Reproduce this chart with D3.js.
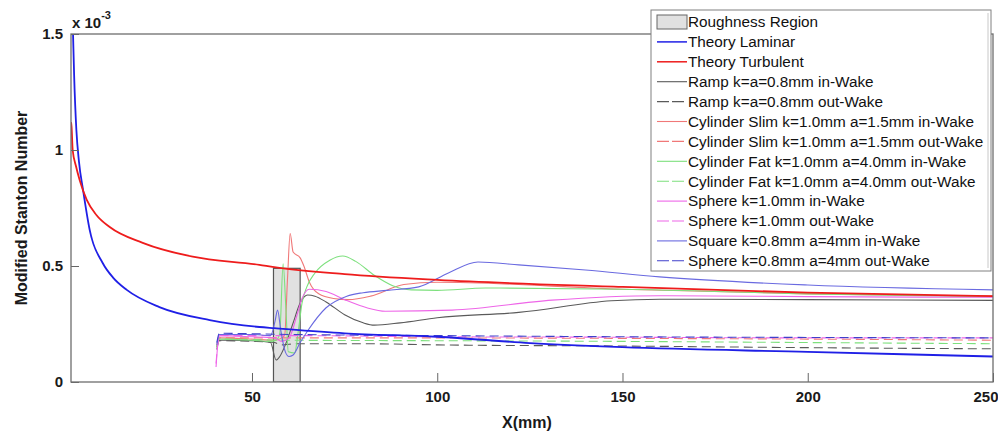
<!DOCTYPE html>
<html>
<head>
<meta charset="utf-8">
<script src="https://cdn.jsdelivr.net/npm/d3@7"></script>
<style>
  body { margin: 0; background: #fff; }
  svg { font-family: Arial, "Liberation Sans", sans-serif; }
  .tick text { font-weight: bold; font-size: 15px; fill: #1a1a1a; }
</style>
</head>
<body>
<div id="chart"></div>
<script>
// x in mm, y in units of 1e-3
const xTicks = [50, 100, 150, 200, 250];
const yTicks = [0, 0.5, 1, 1.5];
const roughness = [55.8, 63.0, 0.49];

const theoryLaminar = [[1.5, 1.62], [1.7, 1.5], [2.0, 1.32], [2.6, 1.086], [3.3, 0.95], [4.4, 0.828], [6.2, 0.655],
  [9.7, 0.513], [12.5, 0.45], [16.2, 0.397], [25, 0.323], [38.6, 0.267], [52, 0.237], [56, 0.232], [75, 0.21],
  [100, 0.195], [125, 0.168], [150, 0.15], [200, 0.13], [250, 0.11]];
const theoryTurbulent = [[1.15, 1.12], [1.3, 1.10], [1.6, 1.0], [2.5, 0.93], [3.5, 0.87], [5.4, 0.785], [8, 0.72],
  [11.6, 0.668], [20.5, 0.60], [34, 0.54], [52, 0.505], [56, 0.495], [75, 0.465], [100, 0.44], [150, 0.41],
  [200, 0.385], [250, 0.37]];
const rampIn = [[40.5, 0.14], [41.2, 0.18], [45, 0.18], [50, 0.178], [55, 0.17], [56.5, 0.095], [57.5, 0.11], [59, 0.16],
  [61, 0.25], [63, 0.34], [65, 0.375], [67, 0.37], [70, 0.345], [75, 0.29], [80, 0.255], [83, 0.245], [90, 0.255],
  [100, 0.277], [122, 0.30], [147, 0.35], [160, 0.357], [200, 0.355], [250, 0.352]];
const rampOut = [[40.5, 0.15], [41.2, 0.178], [50, 0.175], [56, 0.17], [58, 0.16], [62, 0.165], [80, 0.165],
  [100, 0.16], [150, 0.155], [200, 0.148], [250, 0.143]];
const slimIn = [[40.5, 0.15], [41.2, 0.19], [50, 0.185], [56, 0.18], [58.8, 0.2], [59.6, 0.45], [60.3, 0.64],
  [61.1, 0.56], [63, 0.535], [64, 0.5], [65.5, 0.43], [68, 0.38], [72, 0.36], [76, 0.355], [82, 0.37], [91, 0.42],
  [100, 0.43], [150, 0.40], [200, 0.38], [250, 0.37]];
const slimOut = [[40.5, 0.16], [41.2, 0.19], [60, 0.19], [100, 0.19], [150, 0.188], [200, 0.185], [250, 0.18]];
const fatIn = [[40.5, 0.15], [41.2, 0.185], [50, 0.18], [55, 0.175], [56.5, 0.18], [57.5, 0.21], [58.4, 0.51],
  [59.2, 0.3], [59.8, 0.13], [61.5, 0.125], [62.5, 0.22], [63.5, 0.34], [64.8, 0.41], [67, 0.47], [71, 0.525],
  [74.5, 0.543], [78, 0.52], [83, 0.46], [88, 0.415], [93, 0.397], [100, 0.395], [113, 0.405], [150, 0.40],
  [200, 0.38], [250, 0.368]];
const fatOut = [[40.5, 0.15], [41.2, 0.185], [60, 0.18], [100, 0.178], [150, 0.175], [200, 0.17], [250, 0.165]];
const sphere1In = [[40.3, 0.065], [40.7, 0.15], [41.3, 0.2], [50, 0.195], [56, 0.19], [58, 0.175], [60, 0.19],
  [62, 0.28], [63.5, 0.36], [65.5, 0.40], [70, 0.39], [75, 0.355], [81, 0.32], [86, 0.305], [104, 0.31],
  [131, 0.353], [160, 0.372], [200, 0.368], [250, 0.365]];
const sphere1Out = [[40.3, 0.08], [40.8, 0.17], [41.3, 0.2], [60, 0.2], [100, 0.195], [150, 0.193], [200, 0.19],
  [250, 0.19]];
const squareIn = [[40.5, 0.16], [41.2, 0.205], [50, 0.205], [55, 0.2], [56.2, 0.26], [56.9, 0.31], [57.8, 0.22],
  [59, 0.13], [60, 0.11], [61, 0.115], [63, 0.17], [65, 0.22], [70, 0.32], [75.6, 0.37], [80, 0.385], [86.5, 0.395],
  [95, 0.41], [103, 0.47], [111, 0.517], [122, 0.505], [140, 0.483], [160, 0.453], [200, 0.418], [250, 0.397]];
const sphere08Out = [[40.5, 0.17], [41.2, 0.21], [60, 0.205], [100, 0.2], [150, 0.195], [200, 0.192], [250, 0.19]];

const series = [
  { name: 'Theory Laminar', data: theoryLaminar, color: '#1f1fe6', width: 1.8, dash: null },
  { name: 'Theory Turbulent', data: theoryTurbulent, color: '#ee1c1c', width: 1.8, dash: null },
  { name: 'Ramp k=a=0.8mm in-Wake', data: rampIn, color: '#5a5a5a', width: 1.1, dash: null },
  { name: 'Ramp k=a=0.8mm out-Wake', data: rampOut, color: '#5a5a5a', width: 1.1, dash: '9,5' },
  { name: 'Cylinder Slim k=1.0mm a=1.5mm in-Wake', data: slimIn, color: '#f07878', width: 1.1, dash: null },
  { name: 'Cylinder Slim k=1.0mm a=1.5mm out-Wake', data: slimOut, color: '#f07878', width: 1.1, dash: '9,5' },
  { name: 'Cylinder Fat k=1.0mm a=4.0mm in-Wake', data: fatIn, color: '#7de07d', width: 1.1, dash: null },
  { name: 'Cylinder Fat k=1.0mm a=4.0mm out-Wake', data: fatOut, color: '#7de07d', width: 1.1, dash: '9,5' },
  { name: 'Sphere k=1.0mm in-Wake', data: sphere1In, color: '#ee66e8', width: 1.1, dash: null },
  { name: 'Sphere k=1.0mm out-Wake', data: sphere1Out, color: '#ee66e8', width: 1.1, dash: '9,5' },
  { name: 'Square k=0.8mm a=4mm in-Wake', data: squareIn, color: '#6a6ae0', width: 1.1, dash: null },
  { name: 'Sphere k=0.8mm a=4mm out-Wake', data: sphere08Out, color: '#4040cc', width: 1.1, dash: '9,5' },
];

const width = 998;
const height = 433;
const margin = { top: 34, right: 5, bottom: 51, left: 71 };
const iw = width - margin.left - margin.right;
const ih = height - margin.top - margin.bottom;

const svg = d3.select('#chart').append('svg')
  .attr('width', width)
  .attr('height', height);

const g = svg.append('g')
  .attr('transform', `translate(${margin.left}, ${margin.top})`);

const x = d3.scaleLinear().domain([1.15, 250]).range([0, iw]);
const y = d3.scaleLinear().domain([0, 1.5]).range([ih, 0]);

g.append('clipPath').attr('id', 'clip')
  .append('rect').attr('width', iw).attr('height', ih);

const plot = g.append('g').attr('clip-path', 'url(#clip)');

// roughness region
plot.append('rect')
  .attr('x', x(roughness[0]))
  .attr('y', y(roughness[2]))
  .attr('width', x(roughness[1]) - x(roughness[0]))
  .attr('height', y(0) - y(roughness[2]))
  .attr('fill', '#e1e1e1')
  .attr('stroke', '#555')
  .attr('stroke-width', 1.2);

const line = d3.line()
  .x(d => x(d[0]))
  .y(d => y(d[1]))
  .curve(d3.curveMonotoneX);

// experimental curves first, theory on top
const order = series.slice(2).concat(series.slice(0, 2));
plot.selectAll('path.curve')
  .data(order)
  .enter().append('path')
    .attr('class', 'curve')
    .attr('fill', 'none')
    .attr('stroke', d => d.color)
    .attr('stroke-width', d => d.width)
    .attr('stroke-dasharray', d => d.dash)
    .attr('stroke-linejoin', 'round')
    .attr('d', d => line(d.data));

// axes, matlab style with inward ticks
const xAxis = d3.axisBottom(x)
  .tickValues(xTicks)
  .tickSizeInner(-9)
  .tickSizeOuter(0)
  .tickPadding(9);

const gx = g.append('g')
  .attr('transform', `translate(0, ${ih})`)
  .call(xAxis);
gx.select('.domain').remove();
gx.selectAll('line').attr('stroke', '#666');
// last label sits on the window edge
gx.selectAll('.tick text')
  .filter(d => d === 250)
  .attr('text-anchor', 'end')
  .attr('x', 5);

const yAxis = d3.axisLeft(y)
  .tickValues(yTicks)
  .tickFormat(d3.format('~g'))
  .tickSizeInner(-8)
  .tickSizeOuter(0)
  .tickPadding(8);

const gy = g.append('g').call(yAxis);
gy.select('.domain').remove();
gy.selectAll('line').attr('stroke', '#666');

// box
g.append('rect')
  .attr('width', iw)
  .attr('height', ih)
  .attr('fill', 'none')
  .attr('stroke', '#6e6e6e')
  .attr('stroke-width', 1.3);

// exponent label
const expo = svg.append('text')
  .attr('x', 72)
  .attr('y', 28)
  .attr('font-weight', 'bold')
  .attr('font-size', 15)
  .attr('fill', '#1a1a1a');
expo.append('tspan').text('x 10');
expo.append('tspan').attr('dy', -9).attr('font-size', 11).text('-3');

svg.append('text')
  .attr('x', 527)
  .attr('y', 428)
  .attr('text-anchor', 'middle')
  .attr('font-weight', 'bold')
  .attr('font-size', 16)
  .attr('fill', '#1a1a1a')
  .text('X(mm)');

svg.append('text')
  .attr('transform', `translate(27, ${margin.top + ih / 2}) rotate(-90)`)
  .attr('text-anchor', 'middle')
  .attr('font-weight', 'bold')
  .attr('font-size', 16)
  .attr('fill', '#1a1a1a')
  .text('Modified Stanton Number');

// legend
const lg = svg.append('g').attr('transform', 'translate(651, 10)');
const rowH = 19.9;
lg.append('rect')
  .attr('width', 340)
  .attr('height', 261)
  .attr('fill', '#fff')
  .attr('stroke', '#808080')
  .attr('stroke-width', 1);
lg.append('line')
  .attr('x1', 337).attr('x2', 337)
  .attr('y1', 3).attr('y2', 258)
  .attr('stroke', '#c8c8c8');

lg.append('rect')
  .attr('x', 6)
  .attr('y', 5)
  .attr('width', 30)
  .attr('height', 14)
  .attr('fill', '#e1e1e1')
  .attr('stroke', '#666');
lg.append('text')
  .attr('x', 37)
  .attr('y', 12)
  .attr('dy', '0.35em')
  .attr('font-size', 15.3)
  .attr('fill', '#111')
  .text('Roughness Region');

const items = lg.selectAll('g.item')
  .data(series)
  .enter().append('g')
    .attr('class', 'item')
    .attr('transform', (d, i) => `translate(0, ${12 + (i + 1) * rowH})`);

items.append('line')
  .attr('x1', 6)
  .attr('x2', 36)
  .attr('stroke', d => d.color)
  .attr('stroke-width', d => Math.min(d.width, 1.5))
  .attr('stroke-dasharray', d => (d.dash ? '12,3' : null));

items.append('text')
  .attr('x', 37)
  .attr('dy', '0.35em')
  .attr('font-size', 15.3)
  .attr('fill', '#111')
  .text(d => d.name);
</script>
</body>
</html>
